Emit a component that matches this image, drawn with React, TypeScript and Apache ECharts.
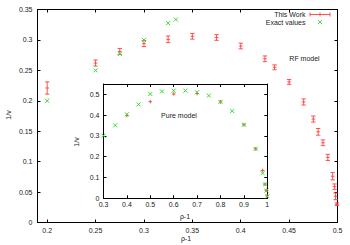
import React, { useEffect, useRef } from "react";
import * as echarts from "echarts";

// Main plot (RF model)
const workX = [0.2, 0.25, 0.275, 0.3, 0.325, 0.35, 0.375, 0.4, 0.425, 0.435, 0.45, 0.465, 0.475, 0.48, 0.485, 0.49, 0.495, 0.497, 0.498, 0.4993];
const workY = [0.221, 0.262, 0.281, 0.294, 0.301, 0.306, 0.304, 0.290, 0.269, 0.255, 0.231, 0.198, 0.170, 0.149, 0.131, 0.107, 0.076, 0.059, 0.043, 0.030];
const workErr = [0.01, 0.005, 0.005, 0.005, 0.0055, 0.0047, 0.0047, 0.0047, 0.0047, 0.004, 0.004, 0.005, 0.005, 0.0055, 0.0047, 0.005, 0.006, 0.0044, 0.0055, 0.002];
const exactX = [0.2, 0.25, 0.275, 0.3, 0.325, 0.333];
const exactY = [0.2, 0.25, 0.277, 0.3, 0.3276, 0.3335];

// Inset (pure model)
const pureWorkX = [0.4, 0.5, 0.6, 0.7, 0.8, 0.9, 0.95, 0.98, 0.99, 0.996, 0.999];
const pureWorkY = [0.398, 0.465, 0.502, 0.504, 0.464, 0.354, 0.238, 0.134, 0.068, 0.038, 0.012];
const pureWorkErr = [0.002, 0.002, 0.002, 0.002, 0.002, 0.002, 0.002, 0.003, 0.002, 0.002, 0.002];
const pureExactX = [0.3, 0.35, 0.4, 0.45, 0.5, 0.55, 0.6, 0.65, 0.7, 0.75, 0.8, 0.85, 0.9, 0.95, 0.98, 0.99, 0.996, 1.0];
const pureExactY = [0.301, 0.351, 0.404, 0.452, 0.502, 0.514, 0.518, 0.518, 0.510, 0.494, 0.464, 0.420, 0.354, 0.238, 0.121, 0.067, 0.037, 0.009];

// Ticks
const mainXTicks = [0.2, 0.25, 0.3, 0.35, 0.4, 0.45, 0.5];
const mainYTicks = [0, 0.05, 0.1, 0.15, 0.2, 0.25, 0.3, 0.35];
const insetXTicks = [0.3, 0.4, 0.5, 0.6, 0.7, 0.8, 0.9, 1];
const insetYTicks = [0, 0.1, 0.2, 0.3, 0.4, 0.5];

const RED = "#ff4040";
const GREEN = "#33dd33";
const FONT = "Liberation Sans";
const TXT = "#222";

const fmt = (v: number) => String(Math.round(v * 1000) / 1000);

function errRender(color: string, cap: number) {
  return (params: any, api: any) => {
    const x = api.value(0), y = api.value(1), e = api.value(2);
    const c = api.coord([x, y]);
    const hi = api.coord([x, y + e]);
    const lo = api.coord([x, y - e]);
    const m = 1.8;
    const style = { stroke: color, lineWidth: 0.9 };
    const top = Math.min(hi[1], c[1] - m);
    const bot = Math.max(lo[1], c[1] + m);
    const kids: any[] = [
      { type: "line", shape: { x1: c[0], y1: top, x2: c[0], y2: bot }, style },
      { type: "line", shape: { x1: c[0] - m, y1: c[1], x2: c[0] + m, y2: c[1] }, style },
    ];
    if (cap > 0) {
      kids.push(
        { type: "line", shape: { x1: c[0] - cap, y1: hi[1], x2: c[0] + cap, y2: hi[1] }, style },
        { type: "line", shape: { x1: c[0] - cap, y1: lo[1], x2: c[0] + cap, y2: lo[1] }, style }
      );
    }
    return { type: "group", children: kids };
  };
}

function crossRender(color: string) {
  return (params: any, api: any) => {
    const c = api.coord([api.value(0), api.value(1)]);
    const s = 2;
    const style = { stroke: color, lineWidth: 1 };
    return {
      type: "group",
      children: [
        { type: "line", shape: { x1: c[0] - s, y1: c[1] - s, x2: c[0] + s, y2: c[1] + s }, style },
        { type: "line", shape: { x1: c[0] - s, y1: c[1] + s, x2: c[0] + s, y2: c[1] - s }, style },
      ],
    };
  };
}

function axis(grid: number, pos: string, min: number, max: number, ticks: number[], labels: boolean, margin: number) {
  return {
    type: "value",
    gridIndex: grid,
    position: pos,
    min,
    max,
    splitLine: { show: false },
    axisLine: { show: true, onZero: false, lineStyle: { color: "#000", width: 1 } },
    axisTick: { show: true, inside: true, length: 3, customValues: ticks, lineStyle: { color: "#000" } },
    axisLabel: {
      show: labels,
      customValues: ticks,
      formatter: (v: number) => fmt(v),
      fontFamily: FONT,
      fontSize: 7,
      color: TXT,
      margin,
    },
  };
}

export default function App() {
  const ref = useRef<HTMLDivElement>(null);
  useEffect(() => {
    if (!ref.current) return;
    const chart = echarts.init(ref.current, null, { renderer: "svg" });
    const gText = (text: string, x: number, y: number, rot = 0, align = "center") => ({
      type: "text",
      x,
      y,
      rotation: rot,
      z: 100,
      style: { text, fontFamily: FONT, fontSize: 7, fill: TXT, align, verticalAlign: "middle" },
    });
    const lstyle = (c: string) => ({ stroke: c, lineWidth: 0.9 });
    chart.setOption({
      animation: false,
      backgroundColor: "#fff",
      grid: [
        { left: 37.5, top: 9.5, right: 12.5, bottom: 22.5, show: false },
        { left: 103.5, top: 84, right: 82.7, bottom: 46.7, show: true, backgroundColor: "#fff", borderColor: "#000", borderWidth: 0, z: 5 },
      ],
      xAxis: [
        axis(0, "bottom", 0.19, 0.5, mainXTicks, true, 4),
        axis(0, "top", 0.19, 0.5, mainXTicks, false, 4),
        { ...axis(1, "bottom", 0.3, 1, insetXTicks, true, 3), z: 6 },
        { ...axis(1, "top", 0.3, 1, insetXTicks, false, 3), z: 6 },
      ],
      yAxis: [
        axis(0, "left", 0, 0.35, mainYTicks, true, 5),
        axis(0, "right", 0, 0.35, mainYTicks, false, 5),
        { ...axis(1, "left", 0, 0.55, insetYTicks, true, 4), z: 6 },
        { ...axis(1, "right", 0, 0.55, insetYTicks, false, 4), z: 6 },
      ],
      series: [
        {
          type: "custom",
          xAxisIndex: 0,
          yAxisIndex: 0,
          renderItem: errRender(RED, 2.2),
          encode: { x: 0, y: 1 },
          data: workX.map((x, i) => [x, workY[i], workErr[i]]),
        },
        {
          type: "custom",
          xAxisIndex: 0,
          yAxisIndex: 0,
          renderItem: crossRender(GREEN),
          encode: { x: 0, y: 1 },
          data: exactX.map((x, i) => [x, exactY[i]]),
        },
        {
          type: "custom",
          xAxisIndex: 2,
          yAxisIndex: 2,
          z: 10,
          renderItem: errRender(RED, 0),
          encode: { x: 0, y: 1 },
          data: pureWorkX.map((x, i) => [x, pureWorkY[i], pureWorkErr[i]]),
        },
        {
          type: "custom",
          xAxisIndex: 2,
          yAxisIndex: 2,
          z: 10,
          renderItem: crossRender(GREEN),
          encode: { x: 0, y: 1 },
          data: pureExactX.map((x, i) => [x, pureExactY[i]]),
        },
      ],
      graphic: [
        gText("1/v", 8, 115, Math.PI / 2),
        gText("ρ-1", 186, 238),
        gText("1/v", 76, 142, Math.PI / 2),
        gText("ρ-1", 185, 216),
        gText("RF model", 304.5, 58),
        gText("Pure model", 179, 115),
        gText("This Work", 305.5, 14.5, 0, "right"),
        gText("Exact values", 305.5, 22, 0, "right"),
        { type: "line", z: 100, shape: { x1: 310, y1: 14.5, x2: 330, y2: 14.5 }, style: lstyle(RED) },
        { type: "line", z: 100, shape: { x1: 310, y1: 12.5, x2: 310, y2: 16.5 }, style: lstyle(RED) },
        { type: "line", z: 100, shape: { x1: 330, y1: 12.5, x2: 330, y2: 16.5 }, style: lstyle(RED) },
        { type: "line", z: 100, shape: { x1: 320, y1: 12.5, x2: 320, y2: 16.5 }, style: lstyle(RED) },
        { type: "line", z: 100, shape: { x1: 318, y1: 20, x2: 322, y2: 24 }, style: lstyle(GREEN) },
        { type: "line", z: 100, shape: { x1: 318, y1: 24, x2: 322, y2: 20 }, style: lstyle(GREEN) },
      ],
    });
    return () => chart.dispose();
  }, []);
  return <div ref={ref} style={{ width: 350, height: 245, position: "absolute", left: 0, top: 0 }} />;
}
